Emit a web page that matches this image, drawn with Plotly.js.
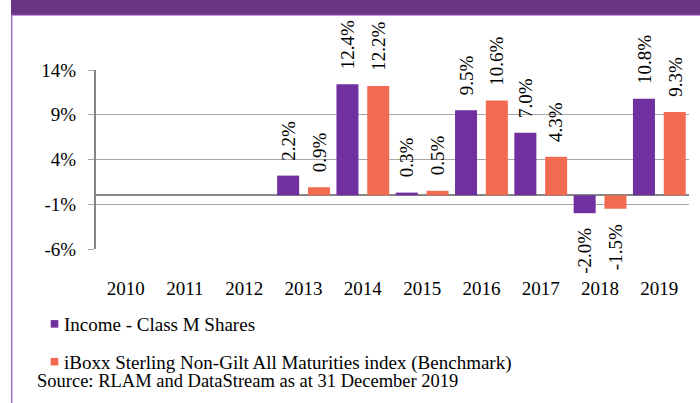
<!DOCTYPE html>
<html>
<head>
<meta charset="utf-8">
<script src="https://cdn.plot.ly/plotly-3.0.1.min.js"></script>
<style>
html,body{margin:0;padding:0;background:#fff;}
#chart{width:700px;height:403px;}
</style>
</head>
<body>
<div id="chart"></div>
<script>
// ---- data ----
const years = ["2010","2011","2012","2013","2014","2015","2016","2017","2018","2019"];
const fundReturns = [null, null, null, 2.2, 12.4, 0.3, 9.5, 7.0, -2.0, 10.8];
const benchReturns = [null, null, null, 0.9, 12.2, 0.5, 10.6, 4.3, -1.5, 9.3];
const fundName = "Income - Class M Shares";
const benchName = "iBoxx Sterling Non-Gilt All Maturities index (Benchmark)";
const yTickVals = [-6, -1, 4, 9, 14];
const yTickText = ["-6%", "-1%", "4%", "9%", "14%"];
const sourceText = "Source: RLAM and DataStream as at 31 December 2019";

// ---- layout geometry (pixels) ----
const W = 700, H = 403;
const L = 96, R = 11, T = 69.5, B = 153.7;
const pw = W - L - R, ph = H - T - B;
const px2x = p => (p - L) / pw;
const px2y = p => (H - B - p) / ph;

const FONT = "Liberation Serif, Times New Roman, serif";
const PURPLE = "#7030A0";
const ORANGE = "#F26A4F";

const catPx = pw / years.length;
const barW = 22 / catPx;

const traces = [
  {
    type: "bar", name: fundName, x: years, y: fundReturns,
    width: barW, offset: -26.4 / catPx,
    marker: {color: PURPLE, line: {width: 0}},
    showlegend: false, hoverinfo: "skip"
  },
  {
    type: "bar", name: benchName, x: years, y: benchReturns,
    width: barW, offset: 4.4 / catPx,
    marker: {color: ORANGE, line: {width: 0}},
    showlegend: false, hoverinfo: "skip"
  }
];

function labelAnns(vals, shift) {
  const out = [];
  vals.forEach((v, i) => {
    if (v === null) return;
    out.push({
      x: i, y: v, xref: "x", yref: "y",
      text: v.toFixed(1) + "%", showarrow: false, textangle: -90,
      xanchor: "center", yanchor: v >= 0 ? "bottom" : "top",
      xshift: shift, yshift: v >= 0 ? 13 : -13,
      font: {family: FONT, size: 19, color: "#000"}
    });
  });
  return out;
}

const annotations = labelAnns(fundReturns, -15.4).concat(labelAnns(benchReturns, 15.4));
annotations.push({
  xref: "paper", yref: "paper", x: px2x(35), y: px2y(381.5),
  xanchor: "left", yanchor: "middle", showarrow: false,
  text: sourceText, font: {family: FONT, size: 18.5, color: "#000"}
});

// custom legend
const legendItems = [
  {name: fundName, color: PURPLE, yc: 324.5},
  {name: benchName, color: ORANGE, yc: 362.5}
];
const legendShapes = [];
legendItems.forEach(it => {
  legendShapes.push({
    type: "rect", xref: "paper", yref: "paper",
    x0: px2x(50.7), x1: px2x(58.3), y0: px2y(it.yc + 3.8), y1: px2y(it.yc - 3.8),
    fillcolor: it.color, line: {width: 0}
  });
  annotations.push({
    xref: "paper", yref: "paper", x: px2x(61.5), y: px2y(it.yc + 1),
    xanchor: "left", yanchor: "middle", showarrow: false,
    text: it.name, font: {family: FONT, size: 19, color: "#000"}
  });
});

const layout = {
  width: W, height: H,
  margin: {l: L, r: R, t: T, b: B, pad: 0},
  paper_bgcolor: "#fff", plot_bgcolor: "#fff",
  showlegend: false,
  barmode: "group",
  font: {family: FONT, size: 19, color: "#000"},
  xaxis: {
    type: "category", categoryarray: years, categoryorder: "array",
    range: [-0.5, years.length - 0.5], autorange: false,
    showgrid: false, zeroline: false, showline: false,
    ticks: "", ticklabelstandoff: 26,
    tickfont: {family: FONT, size: 19, color: "#000"},
    fixedrange: true
  },
  yaxis: {
    range: [-6, 14], autorange: false, tickvals: yTickVals, ticktext: yTickText,
    showgrid: true, gridcolor: "#a6a6a6", gridwidth: 1,
    zeroline: true, zerolinecolor: "#868686", zerolinewidth: 2,
    showline: true, linecolor: "#868686", linewidth: 2,
    ticks: "outside", ticklen: 6, tickcolor: "#a6a6a6", tickwidth: 1,
    ticklabelstandoff: 8,
    tickfont: {family: FONT, size: 19, color: "#000"},
    fixedrange: true
  },
  annotations: annotations,
  shapes: [
    {type: "rect", xref: "paper", yref: "paper",
     x0: px2x(11), x1: px2x(705), y0: px2y(14), y1: px2y(-5),
     fillcolor: "#6C3584", line: {width: 0}, layer: "above"},
    {type: "line", xref: "paper", yref: "paper",
     x0: px2x(11), x1: px2x(705), y0: px2y(14), y1: px2y(14),
     line: {color: "#7E3FA8", width: 1.5}, layer: "above"},
    {type: "line", xref: "paper", yref: "paper",
     x0: px2x(11.7), x1: px2x(11.7), y0: px2y(14), y1: px2y(410),
     line: {color: "#9C6FC4", width: 1.5}, layer: "above"}
  ].concat(legendShapes)
};

Plotly.newPlot("chart", traces, layout, {displayModeBar: false, staticPlot: true});
</script>
</body>
</html>
